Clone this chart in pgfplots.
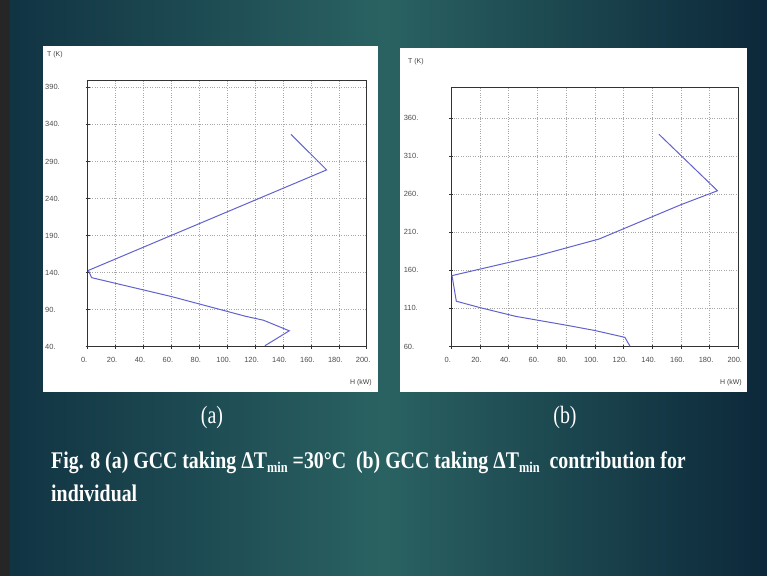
\documentclass[border=0pt]{standalone}
\usepackage{pgfplots}
\pgfplotsset{compat=1.18}
\usepackage{fontspec}
\setmainfont{Liberation Serif}
\setsansfont{Liberation Sans}
\usepackage{graphicx}

\definecolor{gcc}{RGB}{98,98,205}
\definecolor{bgL}{RGB}{16,50,66}
\definecolor{bgM}{RGB}{42,98,98}
\definecolor{bgR}{RGB}{12,40,58}

\newcommand{\sub}[1]{\raisebox{-0.35ex}{\fontsize{15}{16}\selectfont #1}}

\pgfplotsset{gccaxis/.style={
  scale only axis,
  axis line style={black!80, line width=0.6pt},
  xmin=0, xmax=200,
  xtick={0,20,...,200},
  xticklabels={0.,20.,40.,60.,80.,100.,120.,140.,160.,180.,200.},
  xtick pos=bottom, ytick pos=left,
  grid=major,
  major grid style={gray!70, dotted, line width=0.5pt},
  tick align=center, major tick length=4bp,
  tick style={black!80, line width=0.5pt},
  ticklabel style={font=\sffamily\fontsize{7.5}{8}\selectfont, text=black!70},
  xticklabel style={anchor=north, yshift=-5bp, xshift=-3.5bp},
  yticklabel style={anchor=west},
  clip=false,
}}

\begin{document}
\begin{tikzpicture}
% background
\shade[left color=bgL, right color=bgR, middle color=bgM] (0,0) rectangle (767bp,-576bp);
\fill[black!85] (0,0) rectangle (10bp,-576bp);
% panels
\fill[white] (42.7bp,-46bp) rectangle (378bp,-392bp);
\fill[white] (400bp,-48bp) rectangle (747bp,-392bp);

% (a)
\begin{axis}[gccaxis,
  at={(87.7bp,-346.5bp)}, anchor=south west,
  width=279bp, height=266.5bp,
  ymin=40, ymax=400,
  ytick={40,90,...,390},
  yticklabels={40.,90.,140.,190.,240.,290.,340.,390.},
  yticklabel style={xshift=-44bp},
]
\addplot[gcc, line width=1pt] coordinates {
 (145.7,326.6) (171.3,278.6) (158,268) (0.5,142.8) (2.8,133)
 (60,107.5) (112.8,81) (126,75.5) (144.5,61.2) (127,41)
};
\end{axis}
\node[anchor=west, font=\sffamily\fontsize{7}{8}\selectfont, text=black!75, inner sep=0] at (47bp,-55bp) {T (K)};
\node[anchor=east, font=\sffamily\fontsize{7}{8}\selectfont, text=black!75, inner sep=0] at (372bp,-383bp) {H (kW)};

% (b)
\begin{axis}[gccaxis,
  at={(451.3bp,-346.5bp)}, anchor=south west,
  width=287bp, height=259.2bp,
  ymin=60, ymax=400,
  ytick={60,110,...,360},
  yticklabels={60.,110.,160.,210.,260.,310.,360.},
  yticklabel style={xshift=-49bp},
]
\addplot[gcc, line width=1pt] coordinates {
 (144.7,338.4) (185.5,264.3) (160,246) (103,201) (60,179) (0.5,153)
 (3.5,119.4) (20,111) (45,99.5) (80,88) (100,81) (121,72) (124.5,60.5)
};
\end{axis}
\node[anchor=west, font=\sffamily\fontsize{7}{8}\selectfont, text=black!75, inner sep=0] at (408bp,-62bp) {T (K)};
\node[anchor=east, font=\sffamily\fontsize{7}{8}\selectfont, text=black!75, inner sep=0] at (742bp,-383bp) {H (kW)};

% captions
\node[text=white, font=\fontsize{25}{26}\selectfont] at (212bp,-418bp) {\scalebox{0.8}[1]{(a)}};
\node[text=white, font=\fontsize{25}{26}\selectfont] at (565bp,-418bp) {\scalebox{0.8}[1]{(b)}};
\node[text=white, anchor=west, inner sep=0, font=\bfseries\fontsize{24}{26}\selectfont] at (51bp,-463bp)
  {\scalebox{0.83}[1]{Fig. 8 (a) GCC taking ΔT\sub{min} =30°C\ \ (b) GCC taking ΔT\sub{min}\ \ contribution for}};
\node[text=white, anchor=west, inner sep=0, font=\bfseries\fontsize{24}{26}\selectfont] at (51bp,-493bp)
  {\scalebox{0.83}[1]{individual}};
\end{tikzpicture}
\end{document}
